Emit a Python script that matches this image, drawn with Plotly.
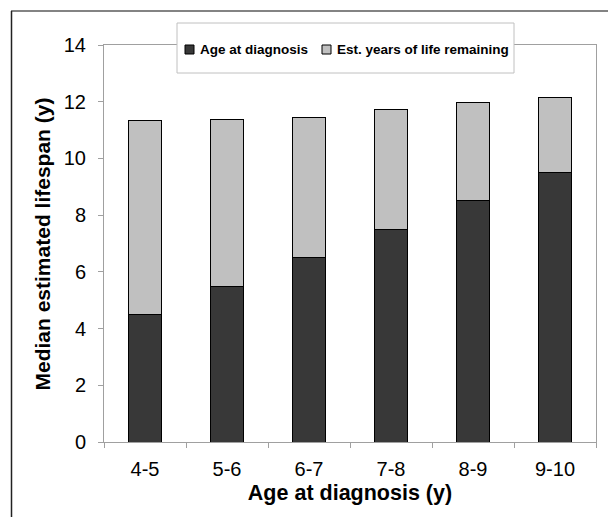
import plotly.graph_objects as go

categories = ["4-5", "5-6", "6-7", "7-8", "8-9", "9-10"]
age_at_diagnosis = [4.5, 5.5, 6.5, 7.5, 8.5, 9.5]
years_remaining = [6.83, 5.88, 4.95, 4.22, 3.48, 2.65]
series_names = ["Age at diagnosis", "Est. years of life remaining"]
series_colors = ["#383838", "#c0c0c0"]
x_title = "Age at diagnosis (y)"
y_title = "Median estimated lifespan (y)"

font_family = "Liberation Sans, Arial, sans-serif"

fig = go.Figure()
for name, vals, col in zip(series_names, [age_at_diagnosis, years_remaining], series_colors):
    fig.add_trace(go.Bar(
        x=categories, y=vals, name=name,
        marker=dict(color=col, line=dict(color="#000000", width=1)),
        width=0.4, showlegend=False,
    ))

L, R, T, B = 104, 596, 45, 442
W, H = R - L, B - T


def px(x):
    return (x - L) / W


def py(y):
    return (B - y) / H


fig.update_layout(
    barmode="stack",
    width=608, height=517,
    margin=dict(l=L, r=608 - R, t=T, b=517 - B),
    paper_bgcolor="white", plot_bgcolor="white",
    font=dict(family=font_family, color="#000000", size=20),
    xaxis=dict(
        showline=True, linecolor="#a0a0a0", linewidth=1, mirror=True,
        ticks="outside", ticklen=5, tickcolor="#a0a0a0",
        tickson="boundaries", showgrid=False, automargin=False,
        ticklabelstandoff=9,
        title=dict(text=x_title, font=dict(size=21.5, weight="bold"), standoff=5),
        tickfont=dict(size=20),
    ),
    yaxis=dict(
        range=[0, 14], dtick=2, showline=True, linecolor="#a0a0a0", linewidth=1, mirror=True,
        ticks="outside", ticklen=5, tickcolor="#a0a0a0", showgrid=False, zeroline=False,
        automargin=False, ticklabelstandoff=8,
        tickfont=dict(size=20),
    ),
)

# y-axis title placed as rotated text
fig.add_annotation(xref="paper", yref="paper", x=px(42.5), y=py(244),
                   xanchor="center", yanchor="middle", showarrow=False, textangle=-90,
                   text=y_title, font=dict(size=21, weight="bold", color="#000000"))

# legend box (drawn manually to match the compact layout)
fig.add_shape(type="rect", xref="paper", yref="paper",
              x0=px(177), x1=px(514), y0=py(23), y1=py(73),
              line=dict(color="#c0c0c0", width=1), fillcolor="white", layer="above")
legend_sq_x = [185, 322]
legend_txt_x = [198, 335]
for sx, tx, name, col in zip(legend_sq_x, legend_txt_x, series_names, series_colors):
    fig.add_shape(type="rect", xref="paper", yref="paper",
                  x0=px(sx), x1=px(sx + 9), y0=py(45), y1=py(54),
                  line=dict(color="#000000", width=1), fillcolor=col, layer="above")
    fig.add_annotation(xref="paper", yref="paper", x=px(tx), y=py(49.5),
                       xanchor="left", yanchor="middle", showarrow=False,
                       text=name, font=dict(size=13.5, weight="bold", color="#000000"))

# outer frame (top and left edges of the figure border)
fig.add_shape(type="line", xref="paper", yref="paper",
              x0=px(11), x1=px(620), y0=py(11), y1=py(11),
              line=dict(color="#5a5a5a", width=1.5))
fig.add_shape(type="line", xref="paper", yref="paper",
              x0=px(11.5), x1=px(11.5), y0=py(11), y1=py(530),
              line=dict(color="#222222", width=1.5))

fig.write_html("out.html")
